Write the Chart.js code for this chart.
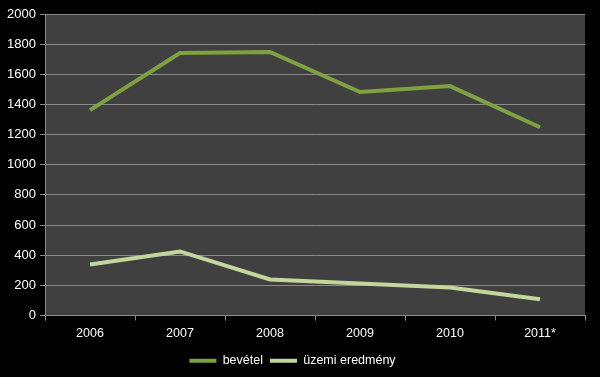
<!DOCTYPE html>
<html><head><meta charset="utf-8">
<script src="https://cdn.jsdelivr.net/npm/chart.js@4"></script>
<style>html,body{margin:0;padding:0;background:#000;}#wrap{width:600px;height:377px;}</style>
</head><body><div id="wrap"><canvas id="c" width="600" height="377"></canvas></div>
<script>
const categories = ['2006','2007','2008','2009','2010','2011*'];
const bevetel = [1362, 1741, 1748, 1482, 1522, 1249];
const uzemiEredmeny = [339, 425, 239, 213, 186, 108];
const yTicks = [0,200,400,600,800,1000,1200,1400,1600,1800,2000];

const plotBg = {
  id:'plotBg',
  beforeDraw(chart){
    const {ctx, chartArea:a} = chart;
    ctx.save();
    ctx.fillStyle = '#404040';
    ctx.fillRect(a.left, a.top, a.right-a.left, a.bottom-a.top);
    ctx.restore();
  }
};

new Chart(document.getElementById('c'), {
  type:'line',
  data:{
    labels:categories,
    datasets:[
      {label:'bevétel', data:bevetel, borderColor:'#7FA240', backgroundColor:'#7FA240', borderWidth:4, pointRadius:0, tension:0},
      {label:'üzemi eredmény', data:uzemiEredmeny, borderColor:'#C3D69B', backgroundColor:'#C3D69B', borderWidth:4, pointRadius:0, tension:0}
    ]
  },
  options:{
    responsive:false, animation:false,
    layout:{padding:{left:0,right:15,top:14,bottom:0}},
    plugins:{
      legend:{position:'bottom', labels:{color:'#fff', font:{family:'Liberation Sans', size:12.5}, usePointStyle:true, pointStyle:'line', pointStyleWidth:27, boxHeight:4, padding:7}},
      tooltip:{enabled:false}
    },
    scales:{
      x:{offset:true,
        grid:{offset:true, drawOnChartArea:false, drawTicks:true, tickLength:5, color:'#8a8a8a'},
        border:{color:'#8a8a8a'},
        ticks:{color:'#fff', font:{family:'Liberation Sans', size:12.5}, padding:6}
      },
      y:{min:0, max:2000,
        afterBuildTicks(s){ s.ticks = yTicks.map(v=>({value:v})); },
        afterFit(s){ s.width = 45; },
        grid:{color:'#8a8a8a', tickLength:5},
        border:{color:'#8a8a8a'},
        ticks:{color:'#fff', font:{family:'Liberation Sans', size:13}, padding:4, callback:(v)=>String(v)}
      }
    }
  },
  plugins:[plotBg]
});
</script></body></html>
